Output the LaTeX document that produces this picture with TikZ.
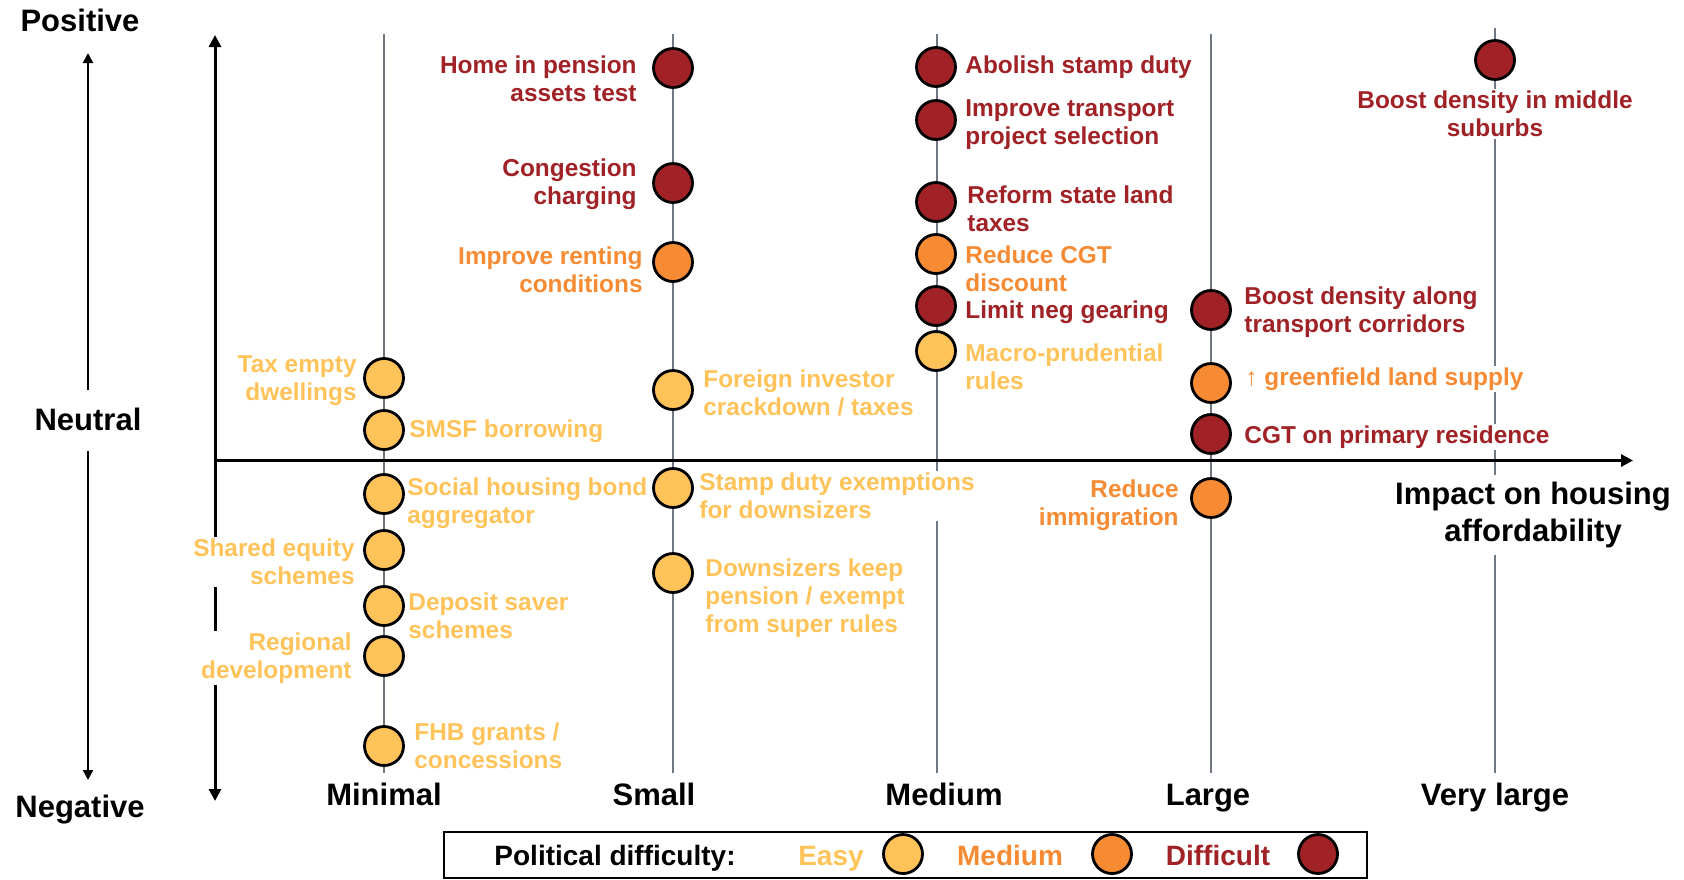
\documentclass[tikz,border=0pt]{standalone}
\usepackage{fontspec}
\setmainfont{Liberation Sans}
\usepackage{tikz}
\usetikzlibrary{arrows.meta}
\definecolor{easyc}{HTML}{FFC35A}
\definecolor{medc}{HTML}{F68B33}
\definecolor{hardc}{HTML}{A02226}
\definecolor{linec}{HTML}{6E7782}

\begin{document}
\begin{tikzpicture}[x=0.5pt,y=-0.5pt,
    dot/.style={circle,draw=black,line width=1.4pt,minimum size=19.5pt,inner sep=0pt},
    easydot/.style={dot,fill=easyc},
    meddot/.style={dot,fill=medc},
    harddot/.style={dot,fill=hardc},
    txt/.style={font=\bfseries\fontsize{12.2}{14}\selectfont,fill=white,inner xsep=0pt,inner ysep=1pt,yshift=-1pt},
    easytxt/.style={txt,text=easyc},
    medtxt/.style={txt,text=medc},
    hardtxt/.style={txt,text=hardc},
    collabel/.style={font=\bfseries\fontsize{15.5}{18.5}\selectfont,align=center},
    legtxt/.style={font=\bfseries\fontsize{14}{16}\selectfont,anchor=base},
    colline/.style={draw=linec,line width=1.1pt},
    axisarrow/.style={line width=1.5pt,-{Triangle[length=6pt,width=6pt]}},
    sidearrow/.style={line width=1pt,-{Triangle[length=5pt,width=5pt]}}]
  \useasboundingbox (0,0) rectangle (1684,879);

  % columns
  \foreach \n/\x/\t in {a/384/34,b/673/34,c/937/34,d/1211/34,e/1495/28} {
    \coordinate (\n top) at (\x,\t);
    \coordinate (\n bot) at (\x,773);
    \draw[colline] (\n top) -- (\n bot);
  }

  % axes
  \coordinate (o) at (215,460.5);
  \coordinate (ytop) at (215,35);
  \coordinate (ybot) at (215,801);
  \coordinate (xend) at (1633,460.5);
  \draw[line width=1.5pt,{Triangle[length=6pt,width=6pt]}-{Triangle[length=6pt,width=6pt]}] (ybot) -- (ytop);

  % left scale
  \node[collabel,anchor=base] (pos) at (80,31) {Positive};
  \node[collabel,anchor=base] (neu) at (88,430) {Neutral};
  \node[collabel,anchor=base] (neg) at (80,817) {Negative};
  \coordinate (u0) at (88,390);
  \coordinate (u1) at (88,53);
  \coordinate (d0) at (88,451);
  \coordinate (d1) at (88,780);
  \draw[sidearrow] (u0) -- (u1);
  \draw[sidearrow] (d0) -- (d1);

  % minimal
  \node[easytxt,anchor=east,align=right] (a1t) at (357,379) {Tax empty\\dwellings};
  \node[easytxt,anchor=west] (a2t) at (409,429) {SMSF borrowing};
  \node[easytxt,anchor=west,align=left] (a3t) at (407,501) {Social housing bond\\aggregator};
  \node[easytxt,anchor=east,align=right] (a4t) at (355,560) {Shared equity\\schemes};
  \node[easytxt,anchor=west,align=left] (a5t) at (408,614) {Deposit saver\\schemes};
  \node[easytxt,anchor=east,align=right] (a6t) at (352,656) {Regional\\development};
  \node[easytxt,anchor=west,align=left] (a7t) at (414,744) {FHB grants /\\concessions};
  \node[easydot] (a1) at (384,378) {};
  \node[easydot] (a2) at (384,430) {};
  \node[easydot] (a3) at (384,494) {};
  \node[easydot] (a4) at (384,550) {};
  \node[easydot] (a5) at (384,606) {};
  \node[easydot] (a6) at (384,656) {};
  \node[easydot] (a7) at (384,746) {};

  % small
  \node[hardtxt,anchor=east,align=right] (b1t) at (637,77) {Home in pension\\assets test};
  \node[hardtxt,anchor=east,align=right] (b2t) at (637,182) {Congestion\\charging};
  \node[medtxt,anchor=east,align=right] (b3t) at (643,268) {Improve renting\\conditions};
  \node[easytxt,anchor=west,align=left] (b4t) at (703,391) {Foreign investor\\crackdown / taxes};
  \node[easytxt,anchor=west,align=left] (b5t) at (699,494) {Stamp duty exemptions\\for downsizers};
  \node[easytxt,anchor=west,align=left] (b6t) at (705,596) {Downsizers keep\\pension / exempt\\from super rules};
  \node[harddot] (b1) at (673,68) {};
  \node[harddot] (b2) at (673,183) {};
  \node[meddot] (b3) at (673,262) {};
  \node[easydot] (b4) at (673,390) {};
  \node[easydot] (b5) at (673,488) {};
  \node[easydot] (b6) at (673,573) {};

  % medium
  \node[hardtxt,anchor=west] (c1t) at (965,65) {Abolish stamp duty};
  \node[hardtxt,anchor=west,align=left] (c2t) at (965,123) {Improve transport\\project selection};
  \node[hardtxt,anchor=west,align=left] (c3t) at (967,207) {Reform state land\\taxes};
  \node[medtxt,anchor=west,align=left] (c4t) at (965,267) {Reduce CGT\\discount};
  \node[hardtxt,anchor=west] (c5t) at (965,310) {Limit neg gearing};
  \node[easytxt,anchor=west,align=left] (c6t) at (965,365) {Macro-prudential\\rules};
  \node[harddot] (c1) at (936,67) {};
  \node[harddot] (c2) at (936,120) {};
  \node[harddot] (c3) at (936,202) {};
  \node[meddot] (c4) at (936,254) {};
  \node[harddot] (c5) at (936,306) {};
  \node[easydot] (c6) at (936,351) {};

  % large
  \node[hardtxt,anchor=west,align=left] (d1t) at (1244,310) {Boost density along\\transport corridors};
  \node[medtxt,anchor=west] (d2t) at (1245,377) {↑ greenfield land supply};
  \node[hardtxt,anchor=west] (d3t) at (1244,435) {CGT on primary residence};
  \node[medtxt,anchor=east,align=right] (d4t) at (1179,503) {Reduce\\immigration};
  \node[harddot] (d1) at (1211,310) {};
  \node[meddot] (d2) at (1211,383) {};
  \node[harddot] (d3) at (1211,434) {};
  \node[meddot] (d4) at (1211,498) {};

  % very large
  \node[hardtxt,align=center] (e1t) at (1495,112) {Boost density in middle\\suburbs};
  \node[harddot] (e1) at (1495,60) {};

  \node[collabel,fill=white] (imp) at (1533,515) {Impact on housing\\affordability};
  \draw[axisarrow] (o) -- (xend);

  % column names
  \node[collabel,anchor=base] (k1) at (384,805) {Minimal};
  \node[collabel,anchor=base] (k2) at (654,805) {Small};
  \node[collabel,anchor=base] (k3) at (944,805) {Medium};
  \node[collabel,anchor=base] (k4) at (1208,805) {Large};
  \node[collabel,anchor=base] (k5) at (1495,805) {Very large};

  % legend
  \node[draw,line width=1.2pt,minimum width=461.5pt,minimum height=23pt,inner sep=0pt] (leg) at (905.5,855) {};
  \node[legtxt] (lt) at (615,865) {Political difficulty:};
  \node[legtxt,text=easyc] (le) at (831,865) {Easy};
  \node[legtxt,text=medc] (lm) at (1010,865) {Medium};
  \node[legtxt,text=hardc] (lh) at (1218,865) {Difficult};
  \node[easydot] (led) at (903,854) {};
  \node[meddot] (lmd) at (1112,854) {};
  \node[harddot] (lhd) at (1318,854) {};
\end{tikzpicture}
\end{document}
